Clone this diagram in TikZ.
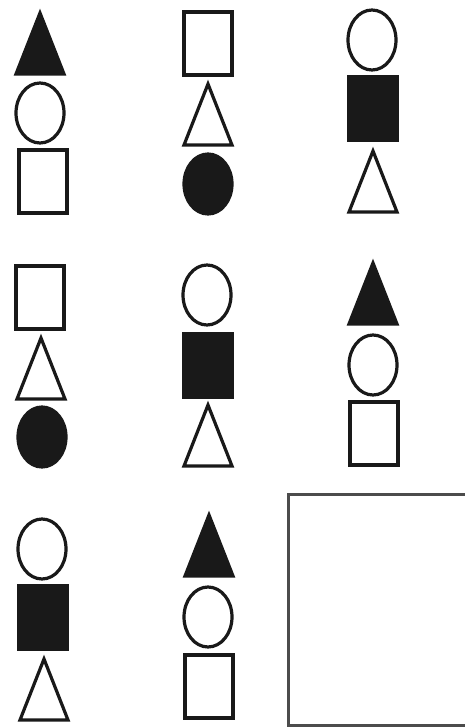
\documentclass[tikz,border=0pt]{standalone}
\begin{document}
\begin{tikzpicture}[x=1pt,y=-1pt,
  shp/.style={draw=black!90,line width=3.2pt,line join=miter},
  hol/.style={shp,fill=white},
  ful/.style={shp,fill=black!90},
  framebox/.style={draw=black!70,line width=3pt}]
\useasboundingbox (0,0) rectangle (464,728);
% tri: apex (cx, top), base at top+61, half-width 24
\newcommand{\mytri}[3]{\draw[#3] (#1,#2) -- (#1+24,#2+61) -- (#1-24,#2+61) -- cycle;}
\newcommand{\mycirc}[3]{\draw[#3] (#1,#2+31) ellipse [x radius=24, y radius=30];}
\newcommand{\mysq}[3]{\draw[#3] (#1-24,#2) rectangle (#1+24,#2+63);}
% column 1 row 1
\mytri{40}{13}{ful}
\mycirc{40}{82}{hol}
\mysq{43}{150}{hol}
% column 2 row 1
\mysq{208}{12}{hol}
\mytri{208}{84}{hol}
\mycirc{208}{153}{ful}
% column 3 row 1
\mycirc{372}{9}{hol}
\mysq{373}{77}{ful}
\mytri{373}{151}{hol}
% row 2
\mysq{40}{266}{hol}
\mytri{41}{338}{hol}
\mycirc{42}{406}{ful}
\mycirc{207}{264}{hol}
\mysq{208}{334}{ful}
\mytri{208}{405}{hol}
\mytri{373}{263}{ful}
\mycirc{373}{334}{hol}
\mysq{374}{402}{hol}
% row 3
\mycirc{42}{518}{hol}
\mysq{43}{586}{ful}
\mytri{44}{659}{hol}
\mytri{209}{515}{ful}
\mycirc{208}{586}{hol}
\mysq{209}{655}{hol}
% answer frame
\draw[framebox] (288,494) rectangle (480,725);
\end{tikzpicture}
\end{document}
